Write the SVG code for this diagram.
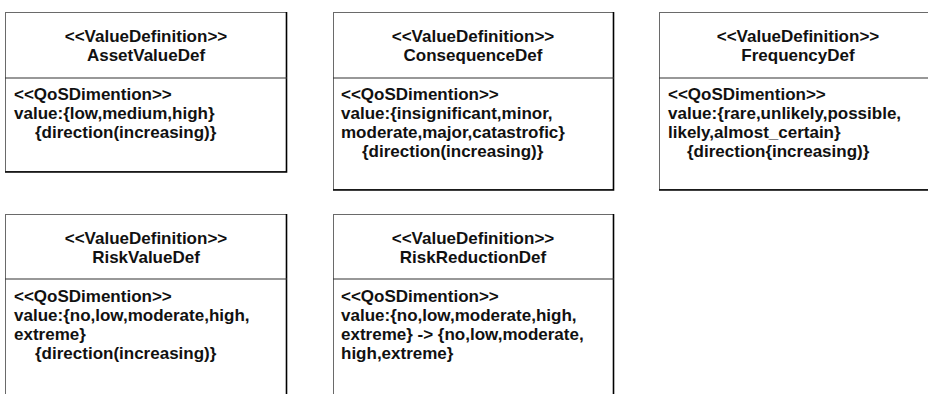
<svg xmlns="http://www.w3.org/2000/svg" width="928" height="394" viewBox="0 0 928 394">
<style>
.bg{fill:#fff}
.box{fill:#fff;stroke:#6a6a6a;stroke-width:1}
.sh{stroke:#000;stroke-width:1.6;fill:none}
.div{stroke:#333;stroke-width:1.2}
text{font-family:"Liberation Sans",Arial,sans-serif;font-weight:bold;font-size:17px;fill:#111}
.c{text-anchor:middle}
</style>
<rect class="bg" x="0" y="0" width="928" height="394"/>
<g id="AssetValueDef">
<rect class="box" x="5.5" y="12.5" width="281" height="159"/>
<path class="sh" d="M286.5,12 V172 H5"/>
<line class="div" x1="5" y1="78" x2="287" y2="78"/>
<text class="c" x="146" y="42">&lt;&lt;ValueDefinition&gt;&gt;</text>
<text class="c" x="146" y="61">AssetValueDef</text>
<text x="14" y="100">&lt;&lt;QoSDimention&gt;&gt;</text>
<text x="14" y="119">value:{low,medium,high}</text>
<text x="35" y="138">{direction(increasing)}</text>
</g>
<g id="ConsequenceDef">
<rect class="box" x="333.5" y="12.5" width="280" height="177"/>
<path class="sh" d="M613.5,12 V190 H333"/>
<line class="div" x1="333" y1="78" x2="614" y2="78"/>
<text class="c" x="473" y="42">&lt;&lt;ValueDefinition&gt;&gt;</text>
<text class="c" x="473" y="61">ConsequenceDef</text>
<text x="341" y="100">&lt;&lt;QoSDimention&gt;&gt;</text>
<text x="341" y="119">value:{insignificant,minor,</text>
<text x="341" y="138">moderate,major,catastrofic}</text>
<text x="362" y="157">{direction(increasing)}</text>
</g>
<g id="FrequencyDef">
<rect class="box" x="659.5" y="12.5" width="280" height="177"/>
<path class="sh" d="M659,190 H940"/>
<line class="div" x1="659" y1="78" x2="940" y2="78"/>
<text class="c" x="798" y="42">&lt;&lt;ValueDefinition&gt;&gt;</text>
<text class="c" x="798" y="61">FrequencyDef</text>
<text x="668" y="100">&lt;&lt;QoSDimention&gt;&gt;</text>
<text x="668" y="119">value:{rare,unlikely,possible,</text>
<text x="668" y="138">likely,almost_certain}</text>
<text x="687" y="157">{direction{increasing)}</text>
</g>
<g id="RiskValueDef">
<rect class="box" x="5.5" y="214.5" width="281" height="200"/>
<path class="sh" d="M286.5,214 V400"/>
<line class="div" x1="5" y1="279" x2="287" y2="279"/>
<text class="c" x="146" y="244">&lt;&lt;ValueDefinition&gt;&gt;</text>
<text class="c" x="146" y="263">RiskValueDef</text>
<text x="14" y="302">&lt;&lt;QoSDimention&gt;&gt;</text>
<text x="14" y="321">value:{no,low,moderate,high,</text>
<text x="14" y="340">extreme}</text>
<text x="35" y="359">{direction(increasing)}</text>
</g>
<g id="RiskReductionDef">
<rect class="box" x="333.5" y="214.5" width="280" height="200"/>
<path class="sh" d="M613.5,214 V400"/>
<line class="div" x1="333" y1="279" x2="614" y2="279"/>
<text class="c" x="473" y="244">&lt;&lt;ValueDefinition&gt;&gt;</text>
<text class="c" x="473" y="263">RiskReductionDef</text>
<text x="341" y="302">&lt;&lt;QoSDimention&gt;&gt;</text>
<text x="341" y="321">value:{no,low,moderate,high,</text>
<text x="341" y="340">extreme} -&gt; {no,low,moderate,</text>
<text x="341" y="359">high,extreme}</text>
</g>
<g id="connectors"/>
</svg>
